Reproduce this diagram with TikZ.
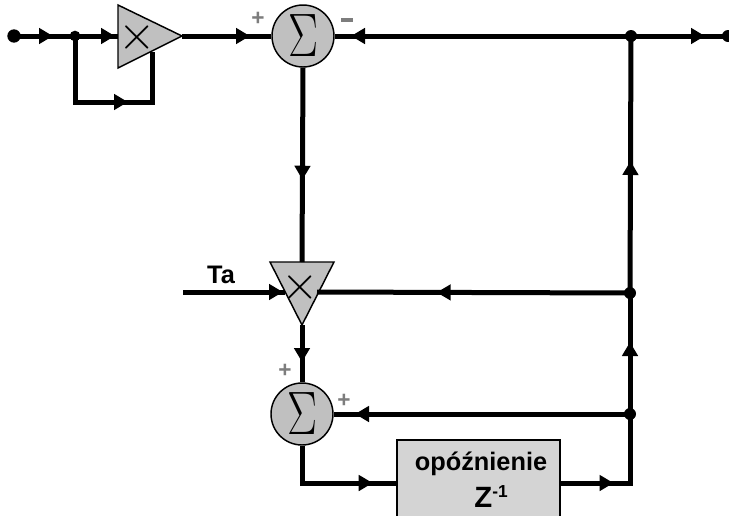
\documentclass[tikz,border=0pt]{standalone}
\usepackage{fontspec}
\setmainfont{Liberation Sans}
\usetikzlibrary{arrows.meta,decorations.markings}
\definecolor{shapegray}{RGB}{192,192,192}
\definecolor{boxgray}{RGB}{212,212,212}
\definecolor{signgray}{RGB}{125,125,125}
\tikzset{
  wire/.style={line width=3.75pt, line join=miter},
  arrat/.style={postaction={decorate}, decoration={markings, mark=at position #1 with {\arrow{Triangle[length=10.5pt,width=11.5pt]}}}},
  dotnode/.style={circle, fill=black, inner sep=0pt, minimum size=9pt},
  sumnode/.style={circle, draw=black, line width=1.1pt, fill=shapegray, minimum size=46.5pt, inner sep=0pt},
  tri/.style={draw=black, line width=1.1pt, fill=shapegray, line join=miter},
  mulsign/.style={inner sep=0pt},
  sign/.style={inner sep=0pt, text=signgray, font=\fontsize{17}{17}\selectfont\bfseries},
  lbl/.style={inner sep=0pt, font=\fontsize{19}{22}\selectfont\bfseries},
  boxnode/.style={draw=black, line width=1.1pt, fill=boxgray, minimum width=122pt, minimum height=64.5pt, inner sep=0pt}
}
\newcommand{\sumsym}{\scalebox{1.35}[1.85]{\Huge$\Sigma$}}
\newcommand{\mulsym}{\scalebox{1.45}{\Huge$\times$}}
\begin{document}
\begin{tikzpicture}[x=0.75pt,y=-0.75pt]
\useasboundingbox (0,0) rectangle (729,515);
% shapes
\draw[tri] (118,5) -- (118,68) -- (182,36) -- cycle;
\draw[tri] (270,262) -- (334,262) -- (302,325) -- cycle;
\node[mulsign] (x1) at (137,37) {\mulsym};
\node[mulsign] (x2) at (300,287) {\mulsym};
\node[sumnode] (s1) at (303,36) {\sumsym};
\node[sumnode] (s2) at (302,414) {\sumsym};
\node[boxnode] (dly) at (478.5,483) {};
\node[lbl, anchor=base] (dtxt) at (481,470) {opóźnienie};
\node[inner sep=0pt, anchor=base] (ztxt) at (491,507) {\fontsize{22}{24}\selectfont\bfseries Z\raisebox{7.5pt}{\fontsize{13}{14}\selectfont -1}};
% points
\coordinate (t1in) at (118,36);
\coordinate (t1out) at (182,36);
\coordinate (t1fb) at (152,52);
\coordinate (t2top) at (302,262);
\coordinate (t2left) at (285,292);
\coordinate (t2right) at (317,292);
\coordinate (t2out) at (302,325);
\coordinate (tain) at (183,292);
\coordinate (lc1) at (75,102);
\coordinate (lc2) at (152,102);
\coordinate (bc1) at (302,483);
\coordinate (bc2) at (630,483);
% dots
\node[dotnode, minimum size=10pt] (in) at (14,36) {};
\node[dotnode, minimum size=8pt] (j1) at (75,36) {};
\node[dotnode] (jR) at (631,36) {};
\node[dotnode] (out) at (728,36) {};
\node[dotnode] (j2) at (630,293) {};
\node[dotnode] (j3) at (630,414) {};
% wires
\draw[wire, arrat=29.25pt] (in.center) -- (j1.center);
\draw[wire, arrat=30pt] (j1.center) -- (t1in);
\draw[wire, arrat=89.25pt] (j1.center) -- (lc1) -- (lc2) -- (t1fb);
\draw[wire, arrat=51pt] (t1out) -- (s1.west);
\draw[wire, arrat=210pt] (jR.center) -- (s1.east);
\draw[wire, arrat=55.5pt] (jR.center) -- (out.center);
\draw[wire, arrat=84pt] (s1.south) -- (t2top);
\draw[wire, arrat=75pt] (tain) -- (t2left);
\draw[wire, arrat=145pt] (j2.center) -- (t2right);
\draw[wire, arrat=27.75pt] (t2out) -- (s2.north);
\draw[wire, arrat=206.25pt] (j3.center) -- (s2.east);
\draw[wire, arrat=81pt] (s2.south) -- (bc1) -- (dly.west);
\draw[wire, arrat=39.75pt] (dly.east) -- (bc2) -- (j3.center);
\draw[wire, arrat=54pt] (j3.center) -- (j2.center);
\draw[wire, arrat=99pt] (j2.center) -- (jR.center);
% signs and labels
\node[sign] (p1) at (258,19) {+};
\node[sign] (m1) at (347,20) {\rule{9pt}{2.3pt}};
\node[sign] (p2) at (285,371) {+};
\node[sign] (p3) at (344,401) {+};
\node[lbl, anchor=base] (ta) at (221,283) {Ta};
\end{tikzpicture}
\end{document}
